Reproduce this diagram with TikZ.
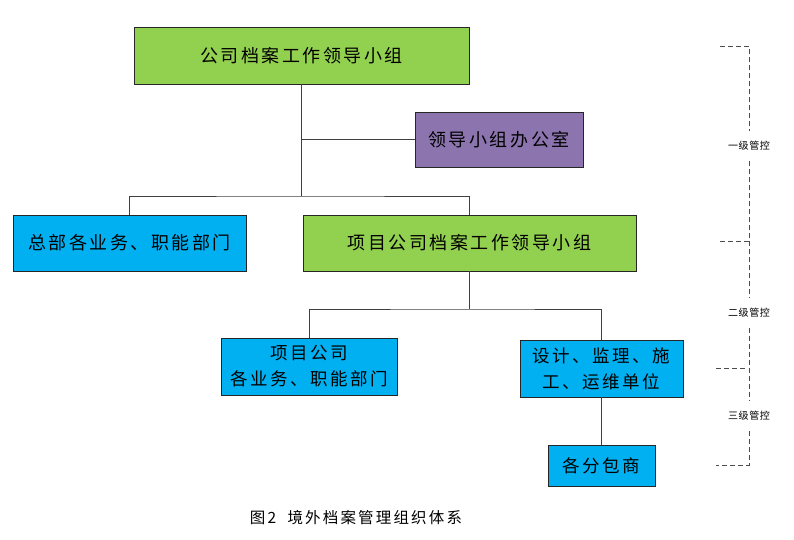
\documentclass[tikz,border=0pt]{standalone}
\usepackage{fontspec}
\setmainfont{Noto Sans CJK SC}
\newfontfamily\cjk[LetterSpace=14]{Noto Sans CJK SC}
\newfontfamily\cjksmall[LetterSpace=6]{Noto Sans CJK SC}

\definecolor{boxgreen}{HTML}{92D050}
\definecolor{boxblue}{HTML}{00B0F0}
\definecolor{boxpurple}{HTML}{8C74AE}

\begin{document}
\begin{tikzpicture}[x=1pt, y=-1pt,
  box/.style={draw=black!85, line width=0.9pt, inner sep=0pt, align=center, font=\cjk\fontsize{18}{26}\selectfont},
  lowbox/.style={box, font=\cjk\fontsize{17.5}{26}\selectfont},
  link/.style={draw=black!75, line width=1pt},
  level/.style={draw=black!70, line width=0.8pt, dash pattern=on 5pt off 3pt},
  levelname/.style={inner sep=0pt, minimum height=30, font=\cjksmall\fontsize{10}{12}\selectfont}]

\useasboundingbox (0,0) rectangle (794,539);

\node[box, fill=boxgreen, minimum width=335, minimum height=57] (top) at (301.5,55.5) {公司档案工作领导小组};
\node[box, fill=boxpurple, minimum width=168, minimum height=55] (office) at (499,139.5) {领导小组办公室};
\node[box, fill=boxblue, minimum width=233, minimum height=56] (hq) at (129.5,243) {总部各业务、职能部门};
\node[box, fill=boxgreen, minimum width=333, minimum height=56] (proj) at (469.5,243) {项目公司档案工作领导小组};
\node[lowbox, fill=boxblue, minimum width=176, minimum height=57] (dept) at (309,366.5) {项目公司\\各业务、职能部门};
\node[lowbox, fill=boxblue, minimum width=163, minimum height=57] (unit) at (601.5,368.5) {设计、监理、施\\工、运维单位};
\node[lowbox, fill=boxblue, minimum width=107, minimum height=41] (sub) at (601.5,465.5) {各分包商};

\coordinate (j1) at (301.5,196);
\coordinate (j2) at (469.5,309);

\draw[link] (top.south) -- (j1);
\draw[link] (top.south |- office.west) -- (office.west);
\draw[link] (hq.north) |- (j1) -| (proj.north);
\draw[link] (proj.south) -- (j2);
\draw[link] (dept.north) |- (j2) -| (unit.north);
\draw[link] (unit.south) -- (sub.north);

\node[levelname] (l1) at (749,146) {一级管控};
\node[levelname] (l2) at (749,313) {二级管控};
\node[levelname] (l3) at (749,416) {三级管控};

\draw[level] (720,46) -| (l1.north);
\draw[level] (l1.south) -- (l2.north);
\draw[level] (720,241) -- (749,241);
\draw[level] (l2.south) -- (l3.north);
\draw[level] (716,368) -- (745,368);
\draw[level] (l3.south) |- (716,465);

\node[font=\cjk\fontsize{15.5}{18}\selectfont] (caption) at (356,518) {图2~~境外档案管理组织体系};

\end{tikzpicture}
\end{document}
